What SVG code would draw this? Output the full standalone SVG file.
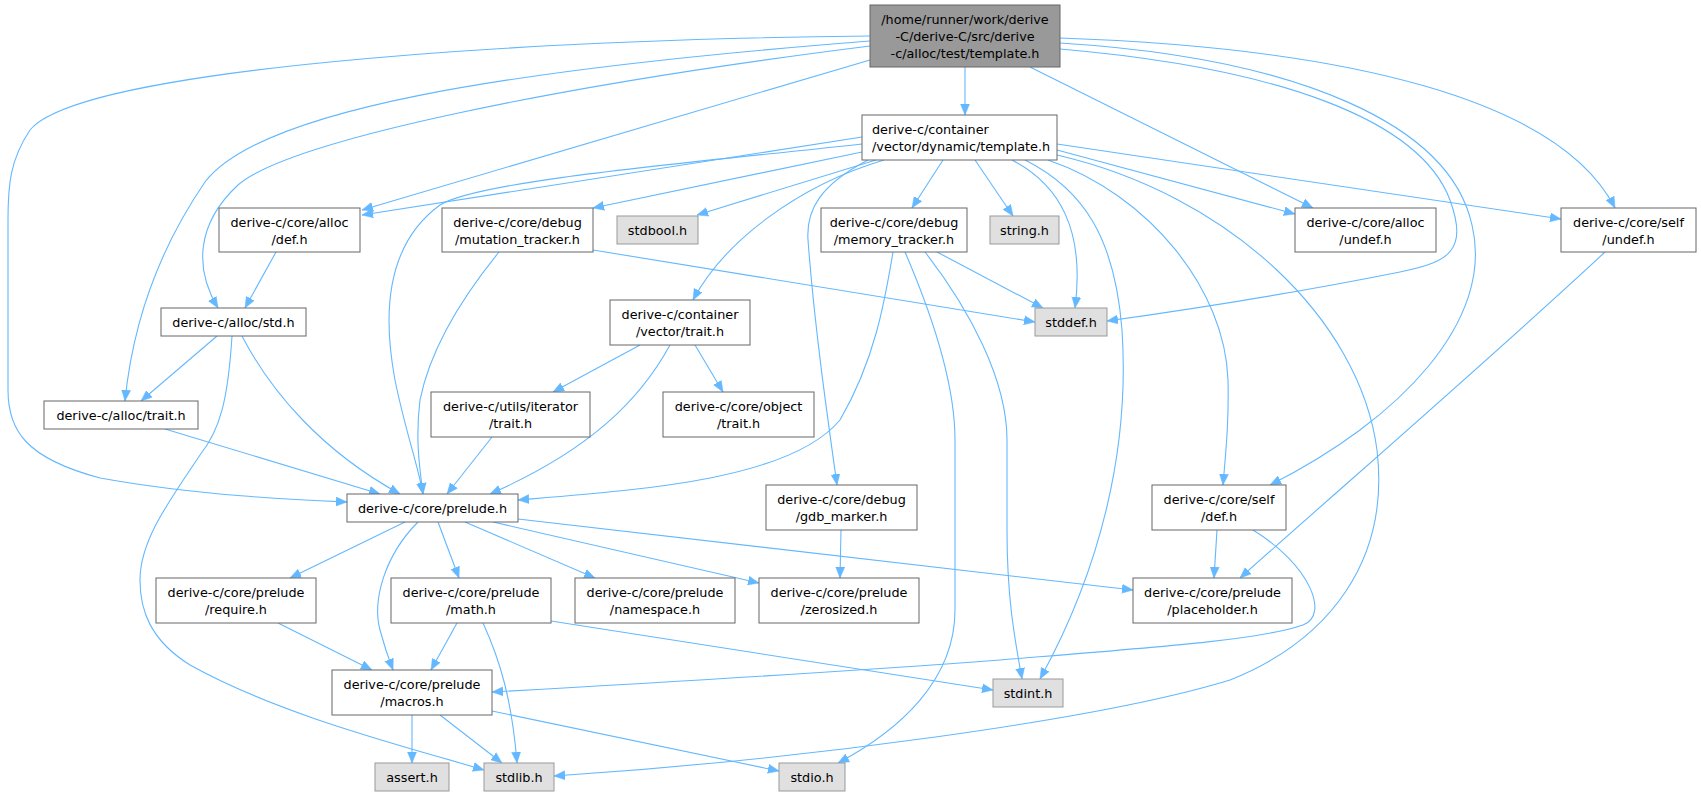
<svg xmlns="http://www.w3.org/2000/svg" width="1701" height="797" viewBox="0 0 1701 797">
<style>
.n rect{fill:#ffffff;stroke:#666666;stroke-width:1}
.x rect{fill:#e0e0e0;stroke:#999999;stroke-width:1}
.r rect{fill:#999999;stroke:#666666;stroke-width:1}
text{font-family:"DejaVu Sans","Liberation Sans",sans-serif;font-size:12.8px;fill:#000000;text-anchor:middle}
.e path{fill:none;stroke:#63b8ff;stroke-width:1.1;marker-end:url(#ah)}
</style>
<defs>
<marker id="ah" markerWidth="11" markerHeight="10" refX="11" refY="5" orient="auto" markerUnits="userSpaceOnUse">
<path d="M0,0.5 L11,5 L0,9.5 z" fill="#63b8ff" stroke="#63b8ff" stroke-width="0.5"/>
</marker>
</defs>
<rect width="1701" height="797" fill="#ffffff"/>
<g class="e" id="edges">
<path d="M965,67 L965,115"/>
<path d="M870,60 L362,210"/>
<path d="M870,36 C 500,40 80,70 30,130 C 10,160 8,185 8,220 L8,390 C 8,430 25,458 100,478 C 200,496 300,500 347,502"/>
<path d="M870,41 C 500,70 260,110 205,182 C 155,255 132,330 125,401"/>
<path d="M870,46 C 560,85 290,140 238,185 C 195,225 195,270 218,308"/>
<path d="M1030,67 L1313,208"/>
<path d="M1060,38 C 1350,48 1560,100 1615,208"/>
<path d="M1060,43 C 1300,58 1450,125 1472,225 C 1495,320 1400,420 1270,485"/>
<path d="M1060,49 C 1280,68 1420,120 1450,200 C 1468,250 1450,262 1400,272 C 1300,292 1200,308 1107,321"/>
<path d="M862,137 L362,215"/>
<path d="M862,144 C 700,162 480,180 440,205 C 392,240 380,300 395,380 C 405,430 418,465 423,494"/>
<path d="M862,152 L593,208"/>
<path d="M876,160 L697,215"/>
<path d="M884,160 C 800,185 725,240 693,300"/>
<path d="M868,160 C 820,185 806,210 808,240 C 814,320 825,400 837,485"/>
<path d="M943,160 L912,208"/>
<path d="M975,160 L1013,216"/>
<path d="M1012,160 C 1060,185 1085,230 1075,308"/>
<path d="M1025,160 C 1085,190 1115,240 1122,330 C 1130,450 1100,570 1040,679"/>
<path d="M1048,160 C 1150,195 1225,290 1228,380 C 1229,420 1226,450 1223,485"/>
<path d="M1057,155 C 1230,195 1360,320 1377,450 C 1390,560 1330,640 1230,680 C 1100,720 800,760 554,776"/>
<path d="M1057,150 L1295,214"/>
<path d="M1057,144 L1561,219"/>
<path d="M276,252 L245,308"/>
<path d="M217,336 L141,401"/>
<path d="M232,336 C 228,400 220,430 200,455 C 170,500 140,540 140,580 C 140,610 150,640 190,665 C 280,715 400,745 484,770"/>
<path d="M242,336 C 270,390 320,450 400,494"/>
<path d="M165,429 L380,494"/>
<path d="M499,252 C 460,300 430,350 420,400 C 415,440 420,470 423,494"/>
<path d="M593,250 L1035,322"/>
<path d="M893,252 C 885,300 875,360 840,420 C 790,480 640,490 518,500"/>
<path d="M905,252 C 930,310 955,380 955,440 L955,610 C 955,680 900,730 838,763"/>
<path d="M925,252 C 970,310 1007,380 1007,440 L1007,530 C 1007,600 1015,640 1022,679"/>
<path d="M937,252 L1043,308"/>
<path d="M640,345 L553,392"/>
<path d="M695,345 L723,392"/>
<path d="M670,345 C 640,400 590,450 490,494"/>
<path d="M492,437 L447,494"/>
<path d="M405,522 L290,578"/>
<path d="M418,522 C 385,555 372,600 380,630 C 384,645 388,657 393,670"/>
<path d="M438,522 L459,578"/>
<path d="M465,522 L595,578"/>
<path d="M493,522 L759,583"/>
<path d="M518,519 L1133,590"/>
<path d="M278,623 L372,670"/>
<path d="M457,623 L431,670"/>
<path d="M483,623 C 500,660 512,700 517,763"/>
<path d="M551,621 L993,690"/>
<path d="M412,715 L412,763"/>
<path d="M440,715 L502,763"/>
<path d="M492,711 L779,771"/>
<path d="M841,530 L840,578"/>
<path d="M1217,530 L1214,578"/>
<path d="M1253,530 C 1310,565 1330,615 1303,625 C 1260,640 1160,647 1000,660 C 800,675 600,686 492,692"/>
<path d="M1605,252 C 1500,350 1350,480 1240,578"/>
</g>
<g id="root" class="r"><rect x="870" y="5" width="190" height="62"/><text x="965" y="23.5">/home/runner/work/derive</text><text x="965" y="40.5">-C/derive-C/src/derive</text><text x="965" y="57.5">-c/alloc/test/template.h</text></g>
<g id="vec_template" class="n"><rect x="862" y="115" width="195" height="45"/><text x="872" y="134" style="text-anchor:start">derive-c/container</text><text x="872" y="151" style="text-anchor:start">/vector/dynamic/template.h</text></g>
<g id="alloc_def" class="n"><rect x="219" y="208" width="141" height="44"/><text x="289.5" y="226.5">derive-c/core/alloc</text><text x="289.5" y="243.5">/def.h</text></g>
<g id="mutation_tracker" class="n"><rect x="442" y="208" width="151" height="44"/><text x="517.5" y="226.5">derive-c/core/debug</text><text x="517.5" y="243.5">/mutation_tracker.h</text></g>
<g id="stdbool" class="x"><rect x="617" y="216" width="81" height="28"/><text x="657.5" y="234.5">stdbool.h</text></g>
<g id="memory_tracker" class="n"><rect x="821" y="208" width="146" height="44"/><text x="894" y="226.5">derive-c/core/debug</text><text x="894" y="243.5">/memory_tracker.h</text></g>
<g id="string" class="x"><rect x="990" y="216" width="69" height="28"/><text x="1024.5" y="234.5">string.h</text></g>
<g id="alloc_undef" class="n"><rect x="1295" y="208" width="141" height="44"/><text x="1365.5" y="226.5">derive-c/core/alloc</text><text x="1365.5" y="243.5">/undef.h</text></g>
<g id="self_undef" class="n"><rect x="1561" y="208" width="135" height="44"/><text x="1628.5" y="226.5">derive-c/core/self</text><text x="1628.5" y="243.5">/undef.h</text></g>
<g id="alloc_std" class="n"><rect x="161" y="308" width="145" height="28"/><text x="233.5" y="326.5">derive-c/alloc/std.h</text></g>
<g id="vector_trait" class="n"><rect x="610" y="300" width="140" height="45"/><text x="680" y="319">derive-c/container</text><text x="680" y="336">/vector/trait.h</text></g>
<g id="stddef" class="x"><rect x="1035" y="308" width="72" height="28"/><text x="1071" y="326.5">stddef.h</text></g>
<g id="alloc_trait" class="n"><rect x="44" y="401" width="154" height="28"/><text x="121" y="419.5">derive-c/alloc/trait.h</text></g>
<g id="iterator_trait" class="n"><rect x="431" y="392" width="159" height="45"/><text x="510.5" y="411">derive-c/utils/iterator</text><text x="510.5" y="428">/trait.h</text></g>
<g id="object_trait" class="n"><rect x="663" y="392" width="151" height="45"/><text x="738.5" y="411">derive-c/core/object</text><text x="738.5" y="428">/trait.h</text></g>
<g id="prelude" class="n"><rect x="347" y="494" width="171" height="28"/><text x="432.5" y="512.5">derive-c/core/prelude.h</text></g>
<g id="gdb_marker" class="n"><rect x="766" y="485" width="151" height="45"/><text x="841.5" y="504">derive-c/core/debug</text><text x="841.5" y="521">/gdb_marker.h</text></g>
<g id="self_def" class="n"><rect x="1152" y="485" width="134" height="45"/><text x="1219" y="504">derive-c/core/self</text><text x="1219" y="521">/def.h</text></g>
<g id="require" class="n"><rect x="156" y="578" width="160" height="45"/><text x="236" y="597">derive-c/core/prelude</text><text x="236" y="614">/require.h</text></g>
<g id="math" class="n"><rect x="391" y="578" width="160" height="45"/><text x="471" y="597">derive-c/core/prelude</text><text x="471" y="614">/math.h</text></g>
<g id="namespace" class="n"><rect x="575" y="578" width="160" height="45"/><text x="655" y="597">derive-c/core/prelude</text><text x="655" y="614">/namespace.h</text></g>
<g id="zerosized" class="n"><rect x="759" y="578" width="160" height="45"/><text x="839" y="597">derive-c/core/prelude</text><text x="839" y="614">/zerosized.h</text></g>
<g id="placeholder" class="n"><rect x="1133" y="578" width="159" height="45"/><text x="1212.5" y="597">derive-c/core/prelude</text><text x="1212.5" y="614">/placeholder.h</text></g>
<g id="macros" class="n"><rect x="332" y="670" width="160" height="45"/><text x="412" y="689">derive-c/core/prelude</text><text x="412" y="706">/macros.h</text></g>
<g id="stdint" class="x"><rect x="993" y="679" width="70" height="28"/><text x="1028" y="697.5">stdint.h</text></g>
<g id="assert" class="x"><rect x="375" y="763" width="74" height="28"/><text x="412" y="781.5">assert.h</text></g>
<g id="stdlib" class="x"><rect x="484" y="763" width="70" height="28"/><text x="519" y="781.5">stdlib.h</text></g>
<g id="stdio" class="x"><rect x="779" y="763" width="66" height="28"/><text x="812" y="781.5">stdio.h</text></g>
</svg>
